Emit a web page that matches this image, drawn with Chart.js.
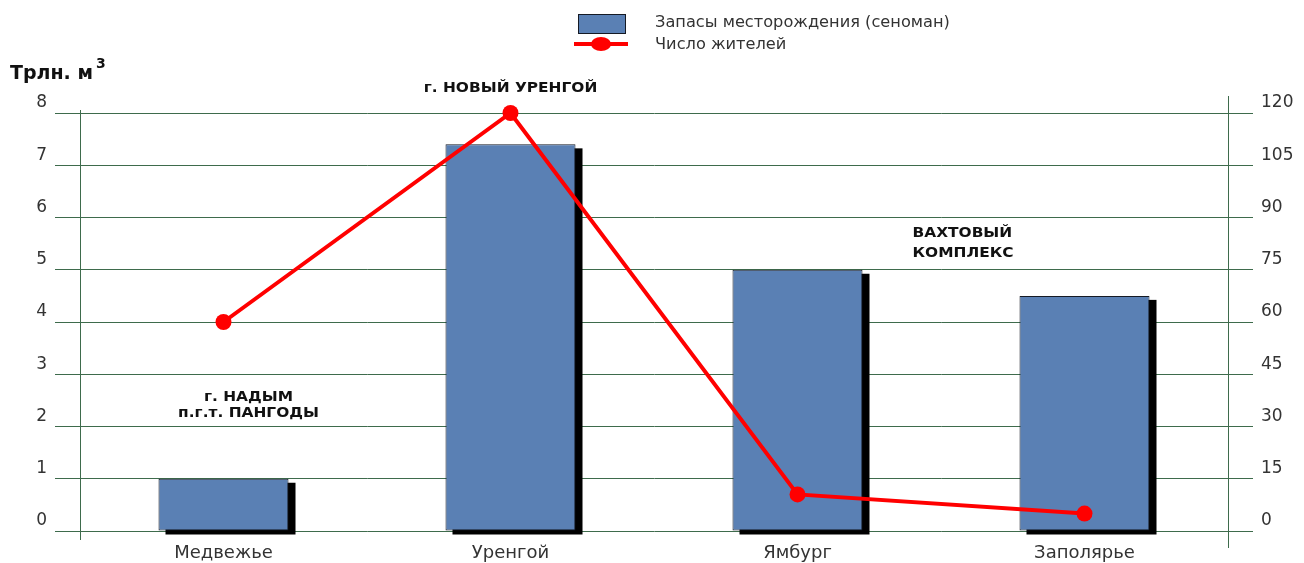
<!DOCTYPE html>
<html>
<head>
<meta charset="utf-8">
<script src="https://cdn.jsdelivr.net/npm/chart.js@4"></script>
<style>
  body { margin: 0; background: #fff; }
  #wrap { width: 1304px; height: 563px; }
</style>
</head>
<body>
<div id="wrap"><canvas id="chart"></canvas></div>
<script>
const categories = ['Медвежье', 'Уренгой', 'Ямбург', 'Заполярье'];
const reserves = [1.0, 7.4, 5.0, 4.5];       // трлн. м3
const residents = [60, 120, 10.5, 5];        // число жителей
const leftTicks = [0, 1, 2, 3, 4, 5, 6, 7, 8];
const rightTicks = [0, 15, 30, 45, 60, 75, 90, 105, 120];

const FONT = '"DejaVu Sans", "Open Sans", sans-serif';
const GRID = '#3e6b4c';
const BLUE = '#5a80b4';
const EDGE = '#151a24';
const RED = '#ff0000';

// black drop shadow behind the bars
const barShadow = {
  id: 'barShadow',
  beforeDatasetDraw(chart, args) {
    if (chart.data.datasets[args.index].type !== 'bar') return;
    const ctx = chart.ctx;
    ctx.save();
    ctx.fillStyle = '#000';
    args.meta.data.forEach(el => {
      ctx.fillRect(el.x - el.width / 2 + 7, el.y + 4, el.width, el.base - el.y);
    });
    ctx.restore();
  }
};

// text stretched a little horizontally
function wideText(ctx, text, x, y, sx) {
  ctx.save();
  ctx.translate(x, y);
  ctx.scale(sx, 1);
  ctx.fillText(text, 0, 0);
  ctx.restore();
}

// legend, axis caption, place names, axis line overhangs
const extras = {
  id: 'extras',
  afterDraw(chart) {
    const ctx = chart.ctx;
    const x = chart.scales.x, y = chart.scales.y;
    const area = chart.chartArea;
    const lx = chart.scales.y.right, rx = chart.scales.y1.left;
    ctx.save();

    // axis lines run a bit past the plot
    ctx.strokeStyle = GRID;
    ctx.lineWidth = 1;
    ctx.beginPath();
    ctx.moveTo(lx + 0.5, area.top - 3);
    ctx.lineTo(lx + 0.5, area.top);
    ctx.moveTo(lx + 0.5, area.bottom);
    ctx.lineTo(lx + 0.5, area.bottom + 9);
    ctx.moveTo(rx + 0.5, area.top - 17);
    ctx.lineTo(rx + 0.5, area.top);
    ctx.moveTo(rx + 0.5, area.bottom);
    ctx.lineTo(rx + 0.5, area.bottom + 17);
    ctx.stroke();

    // legend
    ctx.fillStyle = BLUE;
    ctx.strokeStyle = EDGE;
    ctx.lineWidth = 1;
    ctx.fillRect(578, 14, 47, 19);
    ctx.strokeRect(578.5, 14.5, 47, 19);
    ctx.strokeStyle = RED;
    ctx.lineWidth = 4;
    ctx.beginPath();
    ctx.moveTo(574, 44);
    ctx.lineTo(628, 44);
    ctx.stroke();
    ctx.fillStyle = RED;
    ctx.beginPath();
    ctx.ellipse(601, 44, 10, 7, 0, 0, Math.PI * 2);
    ctx.fill();
    ctx.fillStyle = '#333';
    ctx.font = '15px ' + FONT;
    ctx.textBaseline = 'middle';
    ctx.textAlign = 'left';
    wideText(ctx, 'Запасы месторождения (сеноман)', 655, 23, 1.08);
    wideText(ctx, 'Число жителей', 655, 45, 1.08);

    // axis caption
    ctx.fillStyle = '#111';
    ctx.font = 'bold 19px ' + FONT;
    ctx.textBaseline = 'alphabetic';
    ctx.fillText('Трлн. м', 10, 79);
    const w = ctx.measureText('Трлн. м').width;
    ctx.font = 'bold 14px ' + FONT;
    ctx.fillText('3', 10 + w + 3, 68);

    // place names
    ctx.font = 'bold 14px ' + FONT;
    ctx.textBaseline = 'middle';
    ctx.textAlign = 'center';
    wideText(ctx, 'г. НОВЫЙ УРЕНГОЙ', x.getPixelForValue(1), area.top - 25, 1.1);
    wideText(ctx, 'г. НАДЫМ', x.getPixelForValue(0) + 25, y.getPixelForValue(2.56), 1.1);
    wideText(ctx, 'п.г.т. ПАНГОДЫ', x.getPixelForValue(0) + 25, y.getPixelForValue(2.26), 1.1);
    ctx.textAlign = 'left';
    wideText(ctx, 'ВАХТОВЫЙ', x.getPixelForValue(2) + 115, y.getPixelForValue(5.70), 1.1);
    wideText(ctx, 'КОМПЛЕКС', x.getPixelForValue(2) + 115, y.getPixelForValue(5.32), 1.1);
    ctx.restore();
  }
};

new Chart(document.getElementById('chart'), {
  data: {
    labels: categories,
    datasets: [
      {
        type: 'line',
        label: 'Число жителей',
        data: residents,
        yAxisID: 'y1',
        borderColor: RED,
        backgroundColor: RED,
        borderWidth: 4,
        pointRadius: 8,
        pointBorderWidth: 0,
        tension: 0,
        clip: false,
        order: 0
      },
      {
        type: 'bar',
        label: 'Запасы месторождения (сеноман)',
        data: reserves,
        yAxisID: 'y',
        backgroundColor: BLUE,
        borderColor: EDGE,
        borderWidth: 1,
        borderSkipped: false,
        categoryPercentage: 1,
        barPercentage: 0.453,
        order: 1
      }
    ]
  },
  plugins: [barShadow, extras],
  options: {
    responsive: true,
    maintainAspectRatio: false,
    animation: false,
    layout: { padding: { top: 113, left: 0, right: 0, bottom: 0 } },
    plugins: {
      legend: { display: false },
      tooltip: { enabled: false }
    },
    scales: {
      x: {
        grid: { display: false, drawTicks: false },
        border: { display: false },
        ticks: { color: '#333', font: { family: FONT, size: 18 }, padding: 12 },
        afterFit(s) { s.height = 32; }
      },
      y: {
        position: 'left',
        min: 0,
        max: 8,
        afterBuildTicks(s) { s.ticks = leftTicks.map(v => ({ value: v })); },
        grid: { color: GRID, lineWidth: 1, tickLength: 25 },
        border: { display: true, color: GRID, width: 1 },
        ticks: { color: '#333', font: { family: FONT, size: 17 }, padding: 8, labelOffset: -10 },
        afterFit(s) { s.width = 80; }
      },
      y1: {
        position: 'right',
        min: 0,
        max: 120,
        afterBuildTicks(s) { s.ticks = rightTicks.map(v => ({ value: v })); },
        grid: { color: GRID, lineWidth: 1, tickLength: 25, drawOnChartArea: false },
        border: { display: true, color: GRID, width: 1 },
        ticks: { color: '#333', font: { family: FONT, size: 17 }, padding: 8, labelOffset: -10 },
        afterFit(s) { s.width = 76; }
      }
    }
  }
});
</script>
</body>
</html>
